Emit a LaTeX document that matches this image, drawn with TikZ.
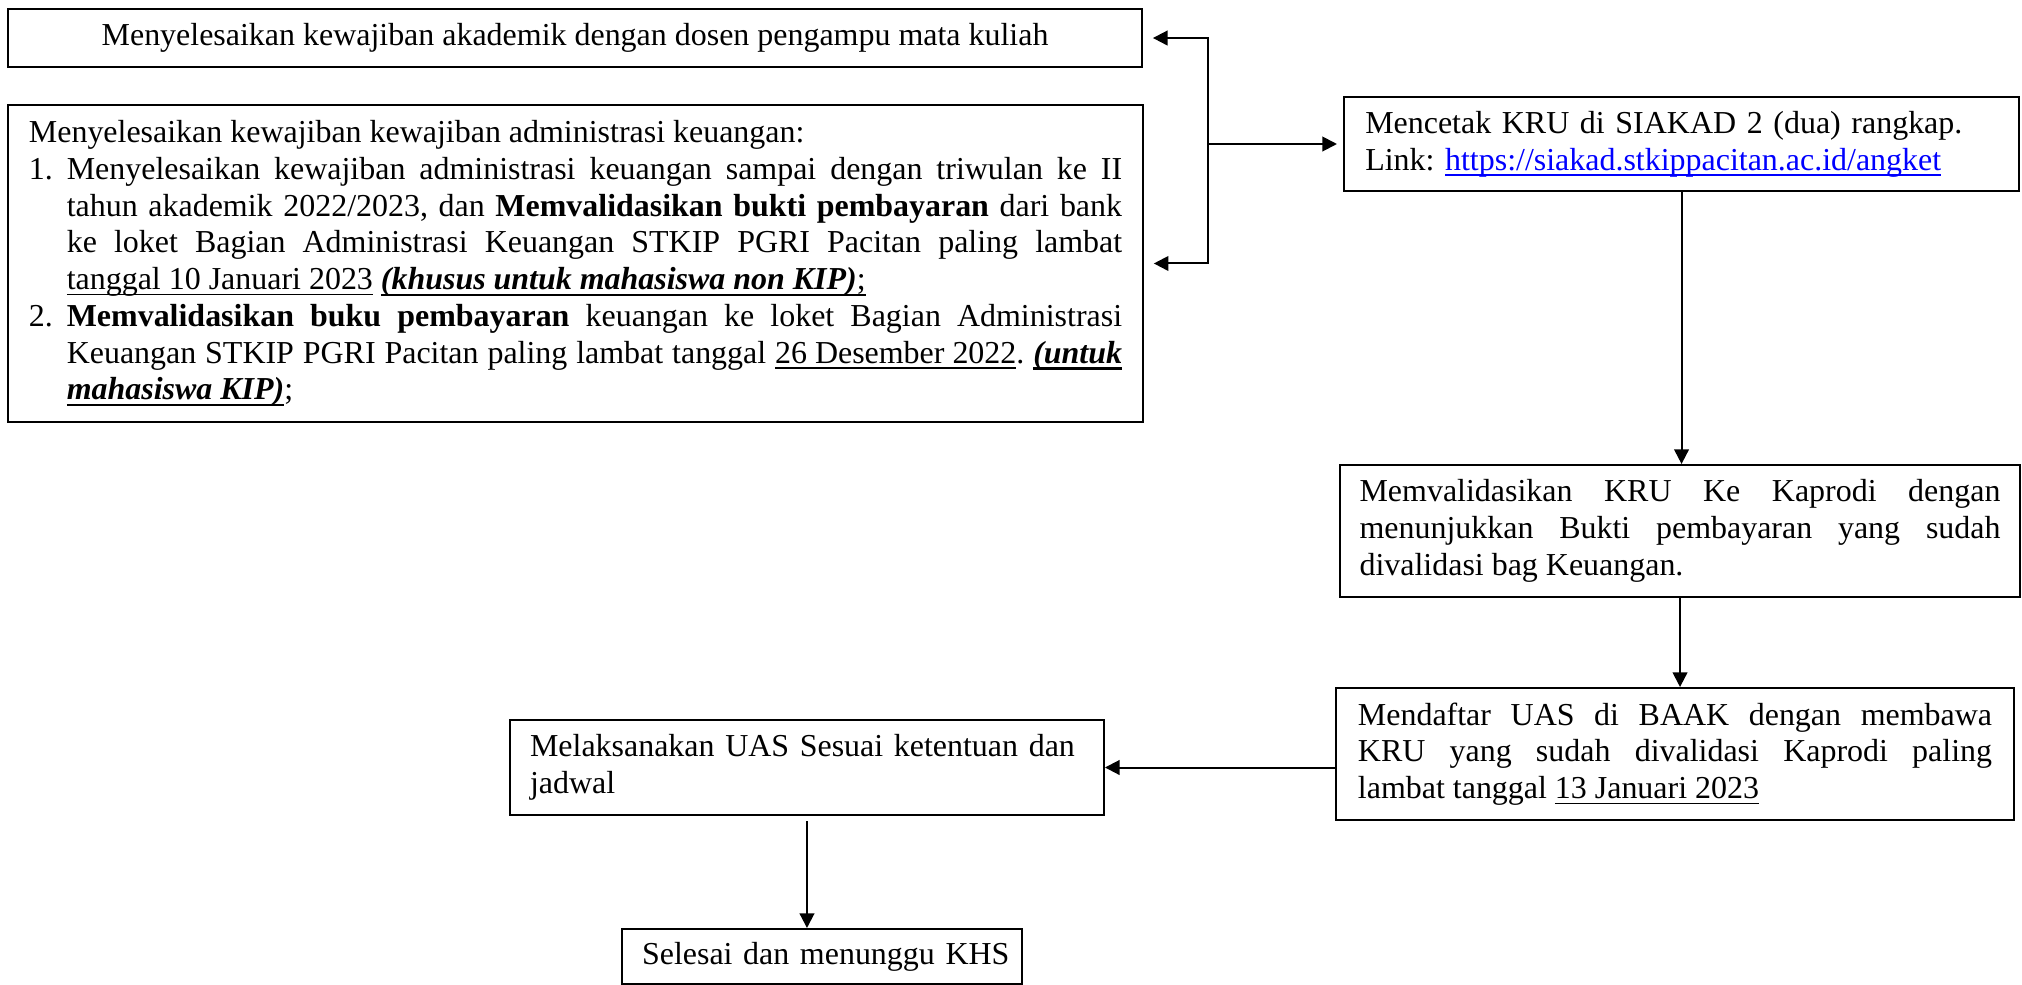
\documentclass[tikz,border=0pt]{standalone}
\usepackage{fontspec}
\setmainfont{Liberation Serif}
\usepackage{xcolor}
\definecolor{tautan}{HTML}{0000FF}
\def\warnatautan{tautan}
\usepackage{tikz}
\usetikzlibrary{arrows.meta,calc}
\def\garis#1{\setbox0\hbox{#1}\rlap{\rule[-2.2pt]{\wd0}{0.6pt}}\box0\relax}
\def\garistebal#1{\setbox0\hbox{#1}\rlap{\rule[-2.5pt]{\wd0}{1pt}}\box0\relax}

\begin{document}
\begin{tikzpicture}[declare function={%
			kolom=15.946;
		}
		]%
		\tikzset{
			kotak/.style={draw,line width=0.75pt,inner ysep=0pt,font=\fontsize{12pt}{13.8pt}\selectfont\frenchspacing},
			panah/.style={line width=0.75pt,-{Triangle[length=5.5pt,width=5.5pt]}}
		}
		\useasboundingbox (0,0) rectangle (26.69,-13.0);
		%%
		\node[kotak,minimum width=14.97cm,minimum height=0.77cm,align=center] (akademik) at (7.59,-0.502) {Menyelesaikan kewajiban akademik dengan dosen pengampu mata kuliah};
		\node[kotak,text width=14.43cm,inner xsep=0.275cm,minimum height=4.184cm,align=justify] (keuangan) at (7.597,-3.478) {%
			Menyelesaikan kewajiban kewajiban administrasi keuangan:\par
			\hangindent=0.5cm\hangafter=0\noindent\llap{\makebox[0.5cm][l]{1.}}Menyelesaikan kewajiban administrasi keuangan sampai dengan triwulan ke II\linebreak
			tahun akademik 2022/2023, dan \textbf{Memvalidasikan bukti pembayaran} dari bank\linebreak
			ke loket Bagian Administrasi Keuangan STKIP PGRI Pacitan paling lambat\linebreak
			\garis{tanggal 10 Januari 2023} \garistebal{\textbf{\textit{(khusus untuk mahasiswa non KIP)}};}\par
			\hangindent=0.5cm\hangafter=0\noindent\llap{\makebox[0.5cm][l]{2.}}\textbf{Memvalidasikan buku pembayaran} keuangan ke loket Bagian Administrasi\linebreak
			Keuangan STKIP PGRI Pacitan paling lambat tanggal \garis{26 Desember 2022}. \garistebal{\textbf{\textit{(untuk}}}\linebreak
			\garistebal{\textbf{\textit{mahasiswa KIP)}}};\par};
		%%
		\node[kotak,text width=8.35cm,inner xsep=0.28cm,minimum height=1.241cm,align=left] (cetak) at (22.196,-1.901) {Mencetak KRU di SIAKAD 2 (dua) rangkap.\\Link: \textcolor{\warnatautan}{\garis{https://siakad.stkippacitan.ac.id/angket}}};
		\node[kotak,text width=8.46cm,inner xsep=0.258cm,minimum height=1.742cm,align=justify] (validasi) at (22.176,-7.009) {Memvalidasikan KRU Ke Kaprodi dengan\linebreak menunjukkan Bukti pembayaran yang sudah\linebreak divalidasi bag Keuangan.};
		\node[kotak,text width=8.37cm,inner xsep=0.29cm,minimum height=1.742cm,align=justify] (daftar) at (22.11,-9.953) {Mendaftar UAS di BAAK dengan membawa\linebreak KRU yang sudah divalidasi Kaprodi paling\linebreak lambat tanggal \garis{13 Januari 2023}};
		%%
		\node[kotak,text width=7.31cm,inner xsep=0.265cm,minimum height=1.254cm,align=left] (laksana) at (10.652,-10.131) {Melaksanakan UAS Sesuai ketentuan dan\\jadwal};
		\node[kotak,text width=4.75cm,inner xsep=0.265cm,minimum height=0.726cm,align=left] (selesai) at (10.85,-12.626) {\mbox{Selesai dan menunggu KHS}};
		%%%
		\coordinate (cabang) at (cetak.west -| kolom,0);
		\draw[panah,shorten >=0.13cm] (cabang) |- (akademik.east);
		\draw[panah,shorten >=0.13cm] (cabang) |- (keuangan.east);
		\draw[panah,shorten >=0.08cm] (cabang) -- (cetak.west);
		\draw[panah] (cetak.south) -- (cetak.south |- validasi.north);
		\draw[panah] (validasi.south) -- (validasi.south |- daftar.north);
		\draw[panah] (daftar.west |- laksana.east) -- (laksana.east);
		\draw[panah] ([yshift=-0.07cm]laksana.south) -- (laksana.south |- selesai.north);
	\end{tikzpicture}
\end{document}
